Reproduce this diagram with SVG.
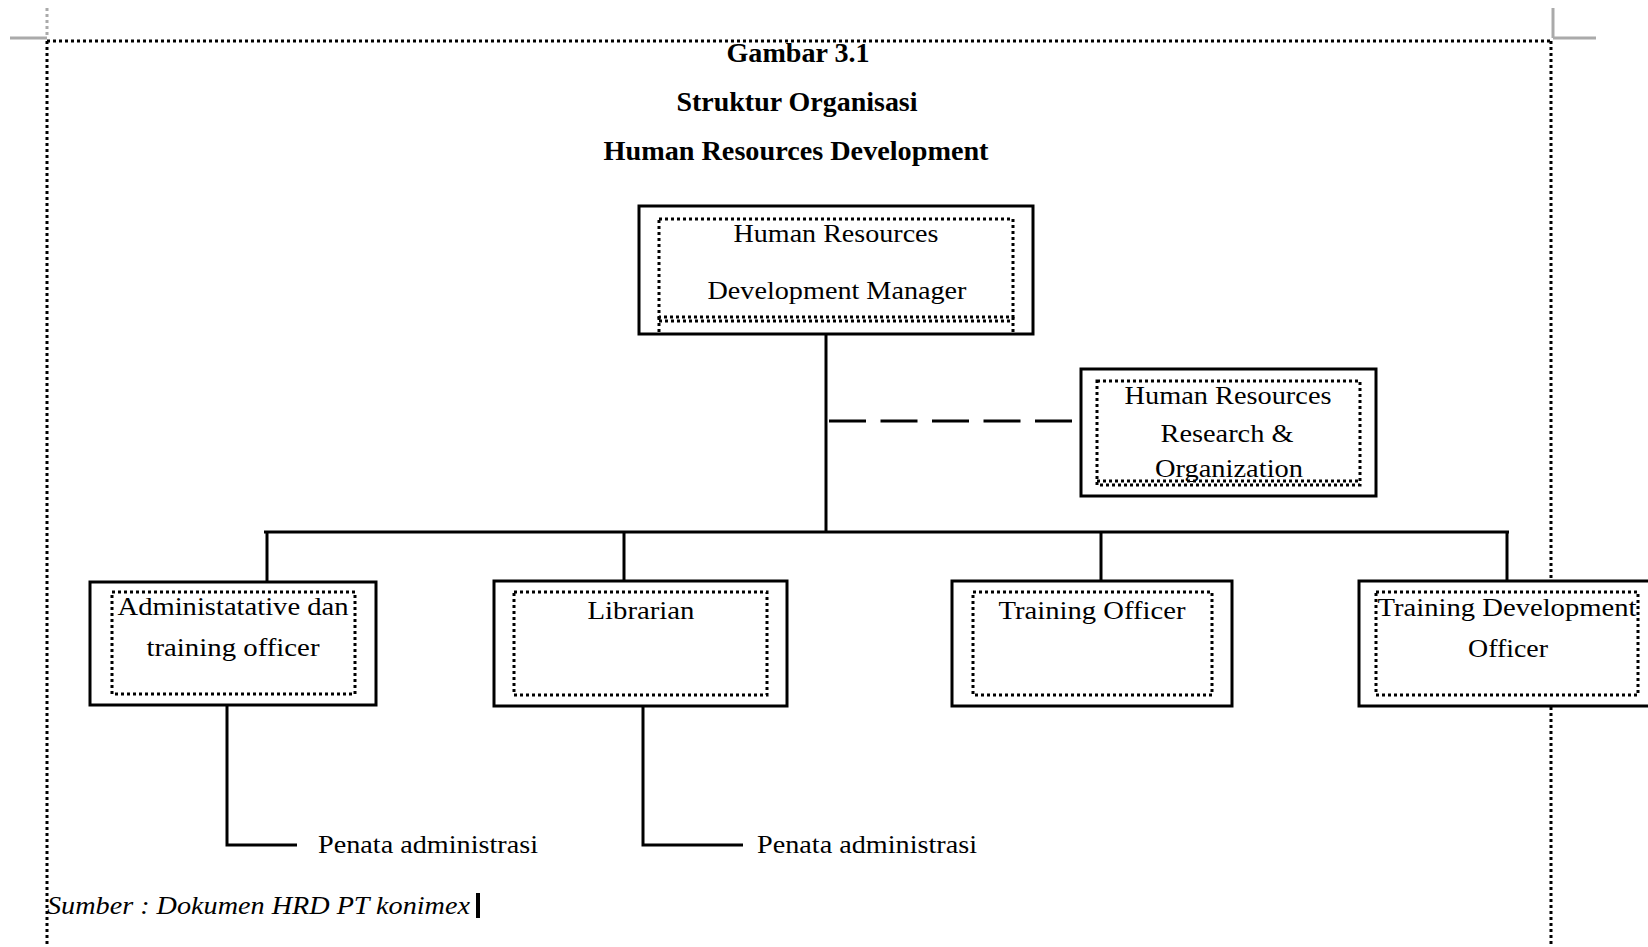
<svg xmlns="http://www.w3.org/2000/svg" width="1648" height="947" viewBox="0 0 1648 947">
<style>
.t{font-family:"Liberation Serif","Times New Roman",serif;fill:#000}
.ti{font-size:27px;font-weight:bold;text-anchor:middle}
.n{font-size:26px;text-anchor:middle}
.l{font-size:26px}
.it{font-size:25px;font-style:italic}
.box{fill:#fff;stroke:#000;stroke-width:3}
.dot{fill:none;stroke:#000;stroke-width:3;stroke-dasharray:3 3}
.ln{fill:none;stroke:#000;stroke-width:3}
.pg{fill:none;stroke:#000;stroke-width:3;stroke-dasharray:3 3}
.gr{fill:none;stroke:#aaa;stroke-width:3}
</style>
<rect width="1648" height="947" fill="#fff"/>
<g id="page">
<line class="gr" x1="10" y1="38" x2="47" y2="38"/>
<line class="gr" x1="47" y1="8" x2="47" y2="38" stroke-dasharray="3 3"/>
<line class="gr" x1="1553" y1="38" x2="1596" y2="38"/>
<line class="gr" x1="1553" y1="8" x2="1553" y2="38"/>
<line class="pg" x1="47" y1="41" x2="1551" y2="41"/>
<line class="pg" x1="47" y1="41" x2="47" y2="947"/>
<line class="pg" x1="1551" y1="41" x2="1551" y2="947"/>
</g>
<g id="title">
<text class="t ti" x="798" y="62" textLength="143" lengthAdjust="spacingAndGlyphs">Gambar 3.1</text>
<text class="t ti" x="797" y="111" textLength="241" lengthAdjust="spacingAndGlyphs">Struktur Organisasi</text>
<text class="t ti" x="796" y="160" textLength="385" lengthAdjust="spacingAndGlyphs">Human Resources Development</text>
</g>
<g id="connectors">
<line class="ln" x1="826" y1="334" x2="826" y2="531"/>
<line class="ln" x1="829" y1="421" x2="1072" y2="421" stroke-dasharray="37 14.5"/>
<line class="ln" x1="264" y1="532" x2="1509" y2="532"/>
<line class="ln" x1="267" y1="532" x2="267" y2="582"/>
<line class="ln" x1="624" y1="532" x2="624" y2="582"/>
<line class="ln" x1="1101" y1="532" x2="1101" y2="582"/>
<line class="ln" x1="1507" y1="532" x2="1507" y2="582"/>
<polyline class="ln" points="227,706 227,845 297,845"/>
<polyline class="ln" points="643,706 643,845 743,845" stroke="#444"/>
</g>
<g id="manager">
<rect class="box" x="639" y="206" width="394" height="128"/>
<rect class="dot" x="659" y="219" width="354" height="98"/>
<polyline class="dot" points="659,321 1013,321"/>
<polyline class="dot" points="659,317 659,334"/>
<polyline class="dot" points="1013,317 1013,334"/>
<text class="t n" x="836" y="242" textLength="205" lengthAdjust="spacingAndGlyphs">Human Resources</text>
<text class="t n" x="837" y="299" textLength="259" lengthAdjust="spacingAndGlyphs">Development Manager</text>
</g>
<g id="research">
<rect class="box" x="1081" y="369" width="295" height="127"/>
<rect class="dot" x="1097" y="381" width="263" height="104"/>
<polyline class="dot" points="1097,481 1360,481"/>
<text class="t n" x="1228" y="404" textLength="207" lengthAdjust="spacingAndGlyphs">Human Resources</text>
<text class="t n" x="1227" y="442" textLength="133" lengthAdjust="spacingAndGlyphs">Research &amp;</text>
<text class="t n" x="1229" y="477" textLength="148" lengthAdjust="spacingAndGlyphs">Organization</text>
</g>
<g id="admin">
<rect class="box" x="90" y="582" width="286" height="123"/>
<rect class="dot" x="112" y="592" width="243" height="102"/>
<text class="t n" x="233" y="615" textLength="231" lengthAdjust="spacingAndGlyphs">Administatative dan</text>
<text class="t n" x="233" y="656" textLength="173" lengthAdjust="spacingAndGlyphs">training officer</text>
</g>
<g id="librarian">
<rect class="box" x="494" y="581" width="293" height="125"/>
<rect class="dot" x="514" y="592" width="253" height="103"/>
<text class="t n" x="641" y="619" textLength="107" lengthAdjust="spacingAndGlyphs">Librarian</text>
</g>
<g id="training">
<rect class="box" x="952" y="581" width="280" height="125"/>
<rect class="dot" x="973" y="592" width="239" height="103"/>
<text class="t n" x="1092" y="619" textLength="187" lengthAdjust="spacingAndGlyphs">Training Officer</text>
</g>
<g id="tdo">
<rect class="box" x="1359" y="581" width="300" height="125"/>
<rect class="dot" x="1376" y="592" width="262" height="103"/>
<text class="t n" x="1507" y="616" textLength="259" lengthAdjust="spacingAndGlyphs">Training Development</text>
<text class="t n" x="1508" y="657" textLength="80" lengthAdjust="spacingAndGlyphs">Officer</text>
</g>
<g id="penata1">
<text class="t l" x="318" y="853" textLength="220" lengthAdjust="spacingAndGlyphs">Penata administrasi</text>
</g>
<g id="penata2">
<text class="t l" x="757" y="853" textLength="220" lengthAdjust="spacingAndGlyphs">Penata administrasi</text>
</g>
<g id="source">
<text class="t it" x="47" y="914" textLength="423" lengthAdjust="spacingAndGlyphs">Sumber : Dokumen HRD PT konimex</text>
<rect x="476" y="893" width="4" height="25" fill="#000"/>
</g>
</svg>
